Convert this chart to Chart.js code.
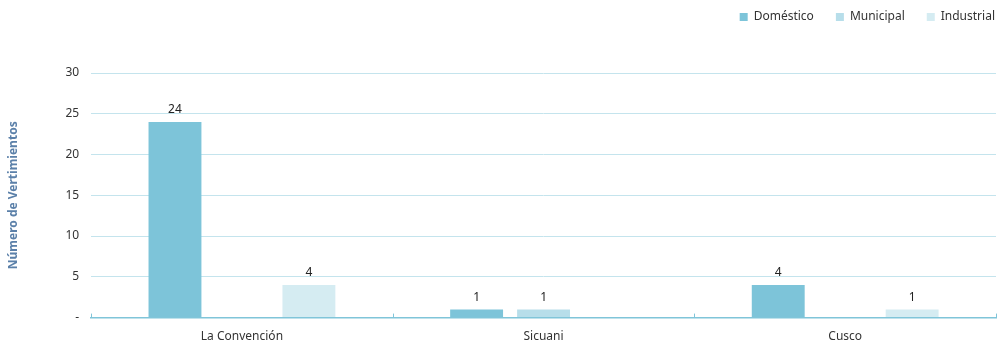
<!DOCTYPE html>
<html><head><meta charset="utf-8">
<script src="https://cdn.jsdelivr.net/npm/chart.js@4.4.0/dist/chart.umd.min.js"></script>
<style>html,body{margin:0;padding:0;background:#fff}#wrap{width:1001px;height:347px}</style>
</head><body><div id="wrap"><canvas id="c"></canvas></div>
<script>
const categories = ["La Convención", "Sicuani", "Cusco"];
const domestico = [24, 1, 4];
const municipal = [0, 1, 0];
const industrial = [4, 0, 1];
const seriesNames = ["Doméstico", "Municipal", "Industrial"];
const yTicks = [0, 5, 10, 15, 20, 25, 30];

const FONT = "'Noto Sans', sans-serif";

const valueLabels = {
  id: 'valueLabels',
  afterDatasetsDraw(chart) {
    const ctx = chart.ctx;
    ctx.save();
    ctx.font = "12px " + FONT;
    ctx.fillStyle = '#222';
    ctx.textAlign = 'center';
    ctx.textBaseline = 'bottom';
    chart.data.datasets.forEach((ds, i) => {
      const meta = chart.getDatasetMeta(i);
      meta.data.forEach((bar, j) => {
        const v = ds.data[j];
        if (!v) return;
        ctx.fillText(String(v), bar.x, bar.y - 6);
      });
    });
    ctx.restore();
  }
};

const catTicks = {
  id: 'catTicks',
  afterDraw(chart) {
    const x = chart.scales.x, y = chart.scales.y;
    const ctx = chart.ctx;
    const base = y.getPixelForValue(0);
    ctx.save();
    ctx.strokeStyle = '#80c5d9';
    ctx.lineWidth = 1;
    const n = categories.length;
    for (let i = 0; i <= n; i++) {
      const px = Math.round(x.left + (x.right - x.left) * i / n) + 0.5;
      ctx.beginPath();
      ctx.moveTo(px, base);
      ctx.lineTo(px, base - 4);
      ctx.stroke();
    }
    ctx.restore();
  }
};

const legendGap = {
  id: 'legendGap',
  beforeInit(chart) {
    const lg = chart.legend;
    const fit = lg.fit;
    lg.fit = function () {
      fit.call(this);
      this.height += 29;
    };
    const draw = lg.draw;
    lg.draw = function () {
      const t = this.top, r = this.right;
      this.top = t - 11;
      this.right = r + 21;
      draw.call(this);
      this.top = t;
      this.right = r;
    };
  }
};

new Chart(document.getElementById('c'), {
  type: 'bar',
  data: {
    labels: categories,
    datasets: [
      { label: seriesNames[0], data: domestico, backgroundColor: '#7dc4d9', borderWidth: 0 },
      { label: seriesNames[1], data: municipal, backgroundColor: '#b7deea', borderWidth: 0 },
      { label: seriesNames[2], data: industrial, backgroundColor: '#d5ecf2', borderWidth: 0 }
    ]
  },
  options: {
    responsive: true,
    maintainAspectRatio: false,
    animation: false,
    layout: { padding: { left: 6, right: 5, top: 0, bottom: -9 } },
    datasets: { bar: { categoryPercentage: 0.666, barPercentage: 0.79 } },
    plugins: {
      legend: {
        position: 'top',
        align: 'end',
        labels: {
          boxWidth: 8, boxHeight: 8, padding: 22,
          color: '#333', font: { family: FONT, size: 12 }
        }
      },
      tooltip: { enabled: false }
    },
    scales: {
      x: {
        grid: { display: false, drawTicks: false },
        border: { display: true, color: '#80c5d9', width: 1.5 },
        ticks: { color: '#333', font: { family: FONT, size: 12 }, padding: 12 }
      },
      y: {
        min: 0, max: 30,
        afterBuildTicks(scale) { scale.ticks = yTicks.map(v => ({ value: v })); },
        grid: { color: '#c4e4ed', drawTicks: false },
        border: { display: false },
        ticks: {
          color: '#333', font: { family: FONT, size: 12 }, padding: 12,
          callback: v => v === 0 ? '-' : String(v)
        },
        title: {
          display: true, text: 'Número de Vertimientos', color: '#5b80a9',
          font: { family: FONT, size: 12, weight: 'bold' }, padding: { top: 0, bottom: 33 }
        }
      }
    }
  },
  plugins: [valueLabels, catTicks, legendGap]
});
</script></body></html>
